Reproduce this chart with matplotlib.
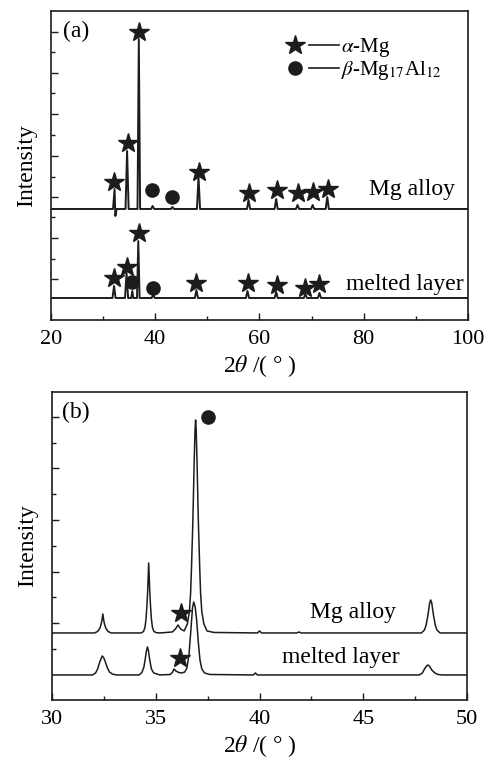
import matplotlib
matplotlib.use('Agg')
import matplotlib.pyplot as plt
from matplotlib.lines import Line2D
from matplotlib.legend_handler import HandlerTuple

plt.rcParams['font.family'] = ['Liberation Serif', 'DejaVu Serif']
plt.rcParams['mathtext.fontset'] = 'stix'

#line colour of the scanned figure
ink = '#1c1c1c'

#panel (a) : full scan 20-100 deg, intensities in arbitrary units (offset curves)
a_mg_x = [20, 31.9, 32.2, 32.35, 32.6, 34.3, 34.6, 34.9, 36.6, 36.85, 37.1,
          39.2, 39.5, 39.8, 43.0, 43.3, 43.6, 48.0, 48.3, 48.6, 57.6, 57.9, 58.2,
          62.9, 63.2, 63.5, 67.0, 67.3, 67.6, 69.9, 70.2, 70.5, 72.7, 73.0, 73.3, 100]
a_mg_y = [111, 111, 131, 104, 111, 111, 169, 111, 111, 281, 111,
          111, 114, 111, 111, 113, 111, 111, 143, 111, 111, 120, 111,
          111, 121, 111, 111, 115, 111, 111, 115, 111, 111, 123, 111, 111]

a_ml_x = [20, 31.8, 32.1, 32.4, 34.2, 34.5, 34.8, 35.4, 35.6, 35.8, 36.5, 36.75, 37.0,
          39.3, 39.6, 39.9, 47.6, 47.9, 48.2, 57.4, 57.7, 58.0, 62.9, 63.2, 63.5,
          68.5, 68.8, 69.1, 71.2, 71.5, 71.8, 100]
a_ml_y = [22, 22, 34, 22, 22, 47, 22, 22, 29, 22, 22, 79, 22,
          22, 25, 22, 22, 30, 22, 22, 29, 22, 22, 28, 22,
          22, 26, 22, 22, 27, 22, 22]

#phase markers in panel (a)
a_mg_star_x = [32.1, 34.7, 36.9, 48.3, 57.9, 63.3, 67.3, 70.2, 73.1]
a_mg_star_y = [138, 177, 288, 148, 127, 130, 127, 128, 131]
a_mg_dot_x = [39.4, 43.3]
a_mg_dot_y = [130, 123]
a_ml_star_x = [32.1, 34.6, 36.8, 47.9, 57.7, 63.3, 68.7, 71.5]
a_ml_star_y = [42, 53, 87, 37, 37, 35, 32, 36]
a_ml_dot_x = [35.6, 39.6]
a_ml_dot_y = [38, 32]

#panel (b) : zoom 30-50 deg
b_mg_x = [30.0, 32.05, 32.2, 32.3, 32.37, 32.41, 32.45, 32.49, 32.53, 32.6, 32.7, 32.85, 33.2,
          34.3, 34.41, 34.48, 34.53, 34.57, 34.61, 34.66, 34.71, 34.75, 34.79,
          34.84, 34.91, 35.02, 35.2, 35.8, 35.95, 36.07, 36.2, 36.37,
          36.52, 36.62, 36.68, 36.72, 36.78, 36.81, 36.85, 36.89, 36.92,
          36.95, 36.99, 37.03, 37.06, 37.12, 37.16, 37.22, 37.32, 37.47, 37.8,
          39.9, 40.0, 40.1, 41.8, 41.9, 42.0, 47.8, 47.95, 48.03, 48.11, 48.2,
          48.25, 48.3, 48.39, 48.47, 48.55, 48.7, 50.0]
b_mg_y = [67, 67, 68.5, 71.5, 76, 80, 86, 80, 76, 71.5, 68.5, 67, 67,
          67, 68.5, 72.5, 81, 93, 109, 137, 109, 93, 81,
          72.5, 68.5, 67.3, 67, 68, 71, 75, 71, 69,
          76, 88, 107, 131, 173, 199, 237, 269, 280,
          269, 237, 199, 173, 131, 107, 88, 76, 69, 67.5,
          67, 69, 67, 67, 68, 67, 67, 70, 75, 84, 97,
          100, 97, 84, 75, 70, 67, 67]

b_ml_x = [30.0, 31.95, 32.1, 32.2, 32.3, 32.42, 32.5, 32.57, 32.67, 32.77, 32.9, 33.1,
          34.2, 34.33, 34.43, 34.5, 34.55, 34.6, 34.65, 34.71, 34.79, 34.9, 35.2,
          35.7, 35.8, 35.88, 35.97, 36.1, 36.25, 36.4, 36.5, 36.6, 36.7, 36.77,
          36.83, 36.9, 36.97, 37.05, 37.13, 37.22, 37.35, 37.6,
          39.7, 39.8, 39.9, 47.7, 47.85, 47.95, 48.05, 48.12, 48.2, 48.3,
          48.45, 48.6, 48.8, 50.0]
b_ml_y = [25, 25, 27, 31, 38, 44, 42, 38, 32, 28, 26, 25,
          25, 27.5, 33, 42, 49, 53, 49, 40, 31, 27, 25,
          25.5, 27.5, 31, 29, 27.5, 27, 28, 32, 45, 72, 92,
          98, 93, 80, 58, 40, 31, 27, 25.5,
          25, 27, 25, 25, 27, 31, 34, 35, 33.5, 30,
          27, 25.5, 25, 25]

b_star_x = [36.2, 36.15]
b_star_y = [87, 42]
b_dot_x = [37.5]
b_dot_y = [283]

xlab = '2$\\theta$ /( \u00b0 )'

fig = plt.figure(figsize=(4.93, 7.67), dpi=100)
ax1 = fig.add_axes([0.1034, 0.5828, 0.8459, 0.4029])
ax2 = fig.add_axes([0.1055, 0.0874, 0.8418, 0.4016])

star_kw = dict(ls='none', marker='*', ms=15, color=ink, mec=ink)
dot_kw = dict(ls='none', marker='o', ms=9.5, color=ink, mec=ink)

#top panel
ax1.plot(a_mg_x, a_mg_y, color=ink, lw=1.4)
ax1.plot(a_ml_x, a_ml_y, color=ink, lw=1.4)
ax1.plot(a_mg_star_x, a_mg_star_y, **star_kw)
ax1.plot(a_ml_star_x, a_ml_star_y, **star_kw)
ax1.plot(a_mg_dot_x, a_mg_dot_y, **dot_kw)
ax1.plot(a_ml_dot_x, a_ml_dot_y, **dot_kw)
ax1.set_xlim(20, 100)
ax1.set_ylim(0, 309)
ax1.set_xticks([20, 40, 60, 80, 100])
ax1.set_xticks([30, 50, 70, 90], minor=True)
ax1.set_yticks([288, 247, 206, 164, 123, 82, 41])
ax1.set_yticks([268, 227, 185, 143, 103, 61], minor=True)
ax1.text(97.6, 130, 'Mg alloy', ha='right', va='center', fontsize=17)
ax1.text(99.2, 35, 'melted layer', ha='right', va='center', fontsize=17)
ax1.text(0.028, 0.935, '(a)', transform=ax1.transAxes, ha='left', va='center', fontsize=17)

h_star = Line2D([], [], **star_kw)
h_dot = Line2D([], [], **dot_kw)
h_dash = Line2D([], [], color=ink, lw=1.2)
ax1.legend([(h_star, h_dash), (h_dot, h_dash)],
           ['$\\alpha$-Mg', '$\\beta$-Mg$_{17}$Al$_{12}$'],
           handler_map={tuple: HandlerTuple(ndivide=None, pad=0)},
           loc='upper left', bbox_to_anchor=(0.515, 0.965), frameon=False,
           fontsize=15, handlelength=2.8, handletextpad=0.1, labelspacing=0.0,
           borderpad=0.2)

#bottom panel
ax2.plot(b_mg_x, b_mg_y, color=ink, lw=1.1)
ax2.plot(b_ml_x, b_ml_y, color=ink, lw=1.1)
ax2.plot(b_star_x, b_star_y, **star_kw)
ax2.plot(b_dot_x, b_dot_y, **dot_kw)
ax2.set_xlim(30, 50)
ax2.set_ylim(0, 308)
ax2.set_xticks([30, 35, 40, 45, 50])
ax2.set_xticks([32.5, 37.5, 42.5, 47.5], minor=True)
ax2.set_yticks([283, 232, 180, 128, 77])
ax2.set_yticks([257, 206, 154, 103, 51], minor=True)
ax2.text(44.5, 87, 'Mg alloy', ha='center', va='center', fontsize=17)
ax2.text(43.9, 42, 'melted layer', ha='center', va='center', fontsize=17)
ax2.text(0.025, 0.935, '(b)', transform=ax2.transAxes, ha='left', va='center', fontsize=17)

for ax in (ax1, ax2):
    ax.tick_params(which='both', direction='in', top=False, right=False,
                   labelleft=False, labelsize=16, pad=7, color=ink)
    ax.tick_params(which='major', length=5, width=1)
    ax.tick_params(which='minor', length=3, width=1)
    for s in ax.spines.values():
        s.set_linewidth(1.2)
        s.set_color(ink)
    ax.set_ylabel('Intensity', fontsize=17, labelpad=10)
    ax.set_xlabel(xlab, fontsize=17, labelpad=3)

fig.savefig('out.png', dpi=100)
